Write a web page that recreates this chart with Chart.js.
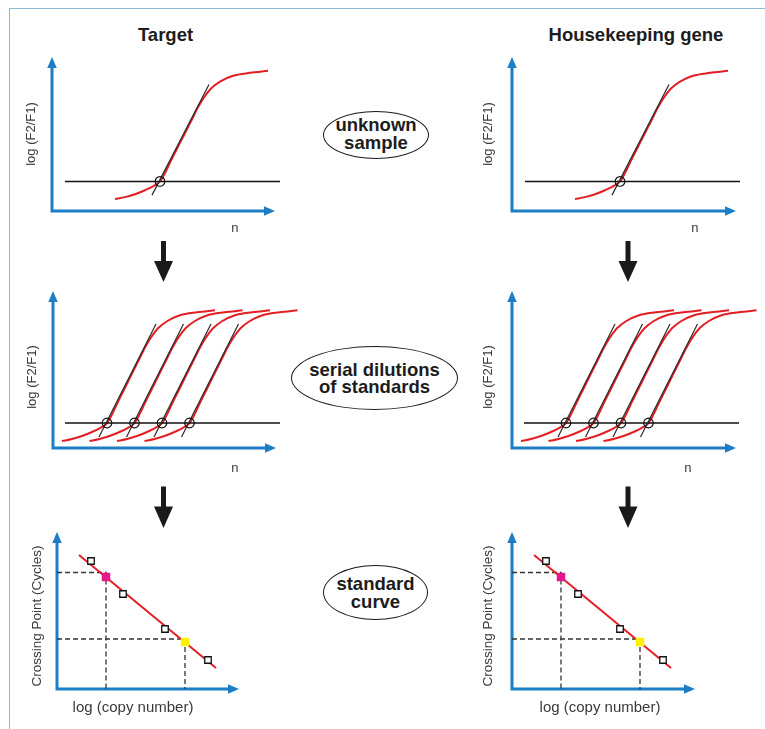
<!DOCTYPE html>
<html>
<head>
<meta charset="utf-8">
<script src="https://cdn.jsdelivr.net/npm/chart.js@4.4.1/dist/chart.umd.min.js"></script>
<style>
html,body{margin:0;padding:0;background:#fff;width:765px;height:729px;overflow:hidden;}
body{position:relative;font-family:"Liberation Sans",Arial,Helvetica,sans-serif;}
#frame{position:absolute;left:9px;top:8px;width:800px;height:800px;border-top:1.5px solid #8fbad3;border-left:1.5px solid #8fbad3;}
canvas{position:absolute;}
.title{position:absolute;font-weight:bold;font-size:18.5px;color:#1c1c1c;transform:translate(-50%,-50%);white-space:nowrap;}
.oval{position:absolute;box-sizing:border-box;border:1.8px solid #1c1c1c;border-radius:50%;display:flex;align-items:center;justify-content:center;text-align:center;font-weight:bold;font-size:18.5px;line-height:17.5px;color:#1c1c1c;}
#arrows{position:absolute;left:0;top:0;}
</style>
</head>
<body>
<div id="frame"></div>
<div class="title" style="left:165.5px;top:35px">Target</div>
<div class="title" style="left:636px;top:35px">Housekeeping gene</div>
<div class="oval" style="left:323px;top:111px;width:106px;height:48px;padding-bottom:3px;">unknown<br>sample</div>
<div class="oval" style="left:291px;top:346px;width:167px;height:64px;">serial dilutions<br>of standards</div>
<div class="oval" style="left:323px;top:565px;width:105px;height:55px;">standard<br>curve</div>
<svg id="arrows" width="765" height="729">
  <g fill="#1a1a1a">
    <polygon points="161,241 166,241 166,261 173,261 163.5,282 154,261 161,261"/>
    <polygon points="161,486.5 166,486.5 166,506.5 173,506.5 163.5,528 154,506.5 161,506.5"/>
    <polygon points="625.5,241 630.5,241 630.5,261 637.5,261 628,282 618.5,261 625.5,261"/>
    <polygon points="625.5,486.5 630.5,486.5 630.5,506.5 637.5,506.5 628,528 618.5,506.5 625.5,506.5"/>
  </g>
</svg>
<canvas id="c1"></canvas>
<canvas id="c2"></canvas>
<canvas id="c3"></canvas>
<canvas id="c4"></canvas>
<canvas id="c5"></canvas>
<canvas id="c6"></canvas>
<script>
// ---------- data ----------
// amplification curve of the unknown sample (cycle n, log(F2/F1))
const sampleCycles = [12.6, 14.6, 16.6, 18.6, 20.2, 21.6, 22.6, 23.6, 25.0, 26.4, 27.8, 29.2, 30.4, 31.8, 33.6, 36.2, 39.6, 43.2];
const sampleSignal = [0.77, 0.90, 1.09, 1.35, 1.60, 1.92, 2.47, 3.14, 4.04, 4.94, 5.83, 6.73, 7.37, 7.95, 8.40, 8.78, 8.97, 9.10];
const sampleThreshold = 1.92;
const sampleThresholdRange = [2.6, 45.6];
const sampleCrossing = [21.6];
const sampleTangentX = [20.0, 31.4];
const sampleTangentY = [1.03, 8.21];

// serial dilutions of standards
const dil1Cycles = [1.8, 3.8, 5.8, 7.8, 9.4, 10.8, 11.8, 12.8, 14.2, 15.6, 17.0, 18.4, 19.6, 21.0, 22.8, 25.4, 28.8, 32.4];
const dil2Cycles = [7.3, 9.3, 11.3, 13.3, 14.9, 16.3, 17.3, 18.3, 19.7, 21.1, 22.5, 23.9, 25.1, 26.5, 28.3, 30.9, 34.3, 37.9];
const dil3Cycles = [12.8, 14.8, 16.8, 18.8, 20.4, 21.8, 22.8, 23.8, 25.2, 26.6, 28.0, 29.4, 30.6, 32.0, 33.8, 36.4, 39.8, 43.4];
const dil4Cycles = [18.3, 20.3, 22.3, 24.3, 25.9, 27.3, 28.3, 29.3, 30.7, 32.1, 33.5, 34.9, 36.1, 37.5, 39.3, 41.9, 45.3, 48.9];
const dilSignal  = [0.44, 0.57, 0.76, 1.02, 1.27, 1.59, 2.14, 2.81, 3.71, 4.61, 5.50, 6.40, 7.04, 7.62, 8.07, 8.45, 8.64, 8.77];
const dilThreshold = 1.59;
const dilThresholdRange = [2.4, 45.4];
const dilCrossings = [10.8, 16.3, 21.8, 27.3];
const dilTangentStart = [9.2, 14.7, 20.2, 25.7];
const dilTangentEnd   = [20.6, 26.1, 31.6, 37.1];
const dilTangentY = [0.70, 7.90];

// standard curve: log(copy number) vs crossing point (cycles)
const stdLogCopies = [1.7, 3.3, 5.4, 7.55];
const stdCycles    = [25.6, 19.0, 12.0, 5.8];
const fitLogCopies = [1.1, 7.95];
const fitCycles    = [26.8, 4.2];
const unknownPoint = {x: 2.45, y: 22.4};
const calibratorPoint = {x: 6.4, y: 9.4};
const unknownGuideY = 23.3;
const calibratorGuideY = 10.0;

// ---------- styling ----------
const FONT = '"Liberation Sans", Arial, Helvetica, sans-serif';
const RED = '#e31e24';
const BLUE = '#1c7ec4';
const INK = '#3a3a3a';

const axisArrows = {
  id: 'axisArrows',
  beforeDatasetsDraw(chart, args, opts) {
    const ctx = chart.ctx, xs = chart.scales.x, ys = chart.scales.y;
    const ox = xs.getPixelForValue(xs.min), oy = ys.getPixelForValue(ys.min);
    const tx = xs.getPixelForValue(opts.xTip), ty = ys.getPixelForValue(opts.yTip);
    const h = 11, w = 9.5;
    ctx.save();
    ctx.strokeStyle = BLUE; ctx.fillStyle = BLUE; ctx.lineWidth = 3; ctx.lineJoin = 'miter';
    ctx.beginPath();
    ctx.moveTo(ox, ty + h - 1); ctx.lineTo(ox, oy); ctx.lineTo(tx - h + 1, oy);
    ctx.stroke();
    ctx.beginPath(); ctx.moveTo(ox, ty); ctx.lineTo(ox - w / 2, ty + h); ctx.lineTo(ox + w / 2, ty + h); ctx.closePath(); ctx.fill();
    ctx.beginPath(); ctx.moveTo(tx, oy); ctx.lineTo(tx - h, oy - w / 2); ctx.lineTo(tx - h, oy + w / 2); ctx.closePath(); ctx.fill();
    ctx.restore();
  }
};

function pts(xs, ys) { return xs.map((x, i) => ({x: x, y: ys[i]})); }

function build(id, geo, xCfg, yCfg, datasets) {
  const cv = document.getElementById(id);
  cv.width = geo.w; cv.height = geo.h;
  cv.style.left = geo.left + 'px'; cv.style.top = geo.top + 'px';
  cv.style.width = geo.w + 'px'; cv.style.height = geo.h + 'px';
  return new Chart(cv, {
    type: 'scatter',
    data: {datasets: datasets},
    plugins: [axisArrows],
    options: {
      responsive: false, animation: false, events: [], devicePixelRatio: 1,
      layout: {padding: {left: 0, top: geo.pt, right: geo.pr, bottom: 0}},
      plugins: {legend: {display: false}, tooltip: {enabled: false},
                axisArrows: {xTip: xCfg.tip, yTip: yCfg.tip}},
      scales: {
        // x range is set after the data limits (not as min/max options) so that
        // curve points running past the axis end are still drawn
        x: {type: 'linear', bounds: 'data',
            afterDataLimits(s) { s.min = 0; s.max = xCfg.max; },
            ticks: {display: false, padding: 0}, grid: {display: false}, border: {display: false},
            title: {display: true, text: xCfg.title, align: xCfg.align, padding: 0, color: INK,
                    font: {family: FONT, size: xCfg.size}},
            afterFit(s) { s.height = geo.hx; }},
        y: {type: 'linear', min: 0, max: yCfg.max,
            ticks: {display: false, padding: 0}, grid: {display: false}, border: {display: false},
            title: {display: true, text: yCfg.title, padding: 0, color: INK,
                    font: {family: FONT, size: yCfg.size}},
            afterFit(s) { s.width = geo.wy; }}
      }
    }
  });
}

function lineDS(data, color, width, order, extra) {
  return Object.assign({data: data, showLine: true, borderColor: color, borderWidth: width,
    pointRadius: 0, clip: false, order: order}, extra || {});
}
function circleDS(xs, y) {
  return {data: xs.map(x => ({x: x, y: y})), showLine: false, pointStyle: 'circle', pointRadius: 4.8,
    pointBorderWidth: 1.2, borderColor: '#111', pointBackgroundColor: 'rgba(0,0,0,0)', clip: false, order: 0};
}

function sampleSets() {
  return [
    lineDS(pts(sampleCycles, sampleSignal), RED, 2, 3, {cubicInterpolationMode: 'monotone'}),
    lineDS(pts(sampleThresholdRange, [sampleThreshold, sampleThreshold]), '#111', 1.5, 2),
    lineDS(pts(sampleTangentX, sampleTangentY), '#2a2a2a', 1.2, 1),
    circleDS(sampleCrossing, sampleThreshold)
  ];
}
function dilutionSets() {
  const sets = [];
  [dil1Cycles, dil2Cycles, dil3Cycles, dil4Cycles].forEach(c =>
    sets.push(lineDS(pts(c, dilSignal), RED, 2, 3, {cubicInterpolationMode: 'monotone'})));
  sets.push(lineDS(pts(dilThresholdRange, [dilThreshold, dilThreshold]), '#111', 1.5, 2));
  dilTangentStart.forEach((x0, i) =>
    sets.push(lineDS(pts([x0, dilTangentEnd[i]], dilTangentY), '#2a2a2a', 1.2, 1)));
  sets.push(circleDS(dilCrossings, dilThreshold));
  return sets;
}
function standardSets() {
  const dash = {borderDash: [5, 3]};
  return [
    lineDS([{x: 0, y: unknownGuideY}, {x: unknownPoint.x, y: unknownGuideY}, {x: unknownPoint.x, y: 0}], '#333', 1.3, 4, dash),
    lineDS([{x: 0, y: calibratorGuideY}, {x: calibratorPoint.x, y: calibratorGuideY}, {x: calibratorPoint.x, y: 0}], '#333', 1.3, 4, dash),
    lineDS(pts(fitLogCopies, fitCycles), RED, 2, 3),
    {data: pts(stdLogCopies, stdCycles), showLine: false, pointStyle: 'rect', pointRadius: 4.6,
     pointBorderWidth: 1.3, borderColor: '#111', pointBackgroundColor: '#fff', clip: false, order: 1},
    {data: [unknownPoint], showLine: false, pointStyle: 'rect', pointRadius: 6, pointBorderWidth: 0,
     borderColor: '#e6168b', pointBackgroundColor: '#e6168b', clip: false, order: 0},
    {data: [calibratorPoint], showLine: false, pointStyle: 'rect', pointRadius: 6, pointBorderWidth: 0,
     borderColor: '#fff200', pointBackgroundColor: '#fff200', clip: false, order: 0}
  ];
}

const yAmp = 'log (F2/F1)';
const yStd = 'Crossing Point (Cycles)';
const xStd = 'log (copy number)';

// Target column
build('c1', {left: 24, top: 51, w: 263, h: 185, pt: 4, pr: 48.5, wy: 28, hx: 25},
  {max: 37.3, tip: 44.6, title: 'n', align: 'end', size: 13},
  {max: 10, tip: 10, title: yAmp, size: 13}, sampleSets());
build('c2', {left: 25, top: 287, w: 279, h: 189, pt: 19, pr: 65.5, wy: 28, hx: 28},
  {max: 37.1, tip: 44.6, title: 'n', align: 'end', size: 13},
  {max: 9.04, tip: 10, title: yAmp, size: 13}, dilutionSets());
build('c3', {left: 29, top: 528, w: 217, h: 189, pt: 15, pr: 37, wy: 28, hx: 28},
  {max: 7.6, tip: 9.1, title: xStd, align: 'center', size: 15},
  {max: 29.2, tip: 31.4, title: yStd, size: 13.5}, standardSets());

// Housekeeping gene column
build('c4', {left: 481, top: 51, w: 265, h: 185, pt: 4, pr: 47.5, wy: 31, hx: 25},
  {max: 37.3, tip: 44.8, title: 'n', align: 'end', size: 13},
  {max: 10, tip: 10, title: yAmp, size: 13}, sampleSets());
build('c5', {left: 481, top: 287, w: 283, h: 189, pt: 19, pr: 72.5, wy: 31, hx: 28},
  {max: 35.9, tip: 44.8, title: 'n', align: 'end', size: 13},
  {max: 9.04, tip: 10, title: yAmp, size: 13}, dilutionSets());
build('c6', {left: 480, top: 528, w: 222, h: 189, pt: 15, pr: 14, wy: 32, hx: 28},
  {max: 8.8, tip: 9.15, title: xStd, align: 'center', size: 15},
  {max: 29.2, tip: 31.4, title: yStd, size: 13.5}, standardSets());
</script>
</body>
</html>
